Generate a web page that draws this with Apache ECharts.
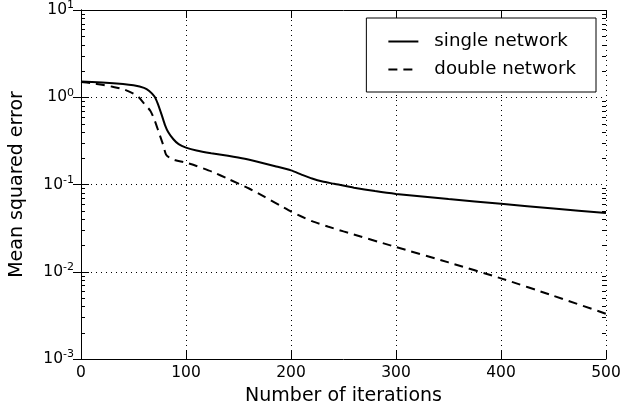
<!DOCTYPE html>
<html>
<head>
<meta charset="utf-8">
<script src="https://cdn.jsdelivr.net/npm/echarts@6/dist/echarts.min.js"></script>
<style>
  html, body { margin: 0; padding: 0; background: #fff; }
  #chart { width: 635px; height: 412px; }
</style>
</head>
<body>
<div id="chart"></div>
<script>
// iterations / error
var singleX = [0, 20, 40, 50, 60, 65, 70, 73, 77, 80, 83, 88, 93, 100, 110, 124, 140, 156, 170, 185, 200, 210, 220, 230, 241, 260, 280, 300, 350, 400, 450, 500];
var singleY = [1.52, 1.48, 1.42, 1.37, 1.28, 1.18, 1.02, 0.85, 0.62, 0.48, 0.40, 0.33, 0.29, 0.265, 0.245, 0.228, 0.213, 0.197, 0.18, 0.162, 0.145, 0.13, 0.117, 0.108, 0.102, 0.092, 0.084, 0.078, 0.068, 0.060, 0.053, 0.047];
var doubleX = [0, 10, 20, 30, 40, 50, 55, 60, 66, 70, 74, 78, 81, 85, 90, 100, 110, 125, 140, 160, 175, 190, 200, 210, 220, 235, 250, 300, 350, 400, 450, 500];
var doubleY = [1.5, 1.45, 1.39, 1.32, 1.24, 1.1, 1.0, 0.85, 0.70, 0.55, 0.40, 0.29, 0.22, 0.20, 0.19, 0.178, 0.163, 0.14, 0.116, 0.09, 0.072, 0.057, 0.049, 0.043, 0.038, 0.033, 0.029, 0.0192, 0.0128, 0.0084, 0.0053, 0.0033];
var xTicks = [0, 100, 200, 300, 400, 500];
var yDecades = [-3, -2, -1, 0, 1];

function pairs(xs, ys) {
  return xs.map(function (x, i) { return [x, ys[i]]; });
}

var chart = echarts.init(document.getElementById('chart'));
var font = 'DejaVu Sans';

var option = {
  animation: false,
  textStyle: { fontFamily: font, color: '#000' },
  grid: { left: 79, right: 29, top: 9, bottom: 53 },
  legend: {
    right: 39, top: 18,
    orient: 'vertical',
    backgroundColor: '#fff',
    borderColor: '#000',
    borderWidth: 1,
    borderRadius: 0,
    padding: [14, 20, 13, 21],
    itemWidth: 30,
    itemHeight: 19,
    itemGap: 9,
    itemStyle: { opacity: 0 },
    textStyle: { fontFamily: font, fontSize: 18.2, lineHeight: 19, color: '#000', padding: [0, 0, 0, 11] },
    data: ['single network', 'double network']
  },
  xAxis: [{
    type: 'value', min: 0, max: 500, interval: 100,
    name: 'Number of iterations', nameLocation: 'middle', nameGap: 28,
    nameTextStyle: { fontSize: 19, color: '#000' },
    axisLine: { show: true, lineStyle: { color: '#000', width: 1 } },
    axisTick: { show: true, inside: true, length: 8, lineStyle: { color: '#000' } },
    axisLabel: { fontSize: 15.5, color: '#000', margin: 6 },
    splitLine: { show: true, lineStyle: { type: [1, 4], color: '#000', width: 1 } }
  }, {
    type: 'value', min: 0, max: 500, interval: 100, position: 'top',
    axisLine: { show: true, lineStyle: { color: '#000', width: 1 } },
    axisTick: { show: true, inside: true, length: 8, lineStyle: { color: '#000' } },
    axisLabel: { show: false },
    splitLine: { show: false }
  }],
  yAxis: [{
    type: 'log', logBase: 10, min: 0.001, max: 10,
    name: 'Mean squared error', nameLocation: 'middle', nameGap: 54,
    nameTextStyle: { fontSize: 19, color: '#000' },
    axisLine: { show: true, lineStyle: { color: '#000', width: 1 } },
    axisTick: { show: true, inside: true, length: 8, lineStyle: { color: '#000' } },
    axisLabel: {
      margin: 7,
      formatter: function (v) {
        var e = Math.round(Math.log10(v));
        return '{b|10}{s|' + e + '}';
      },
      rich: {
        b: { fontSize: 15.5, color: '#000', fontFamily: font },
        s: { fontSize: 11, color: '#000', fontFamily: font, padding: [0, 0, 9, 0] }
      }
    },
    splitLine: { show: true, lineStyle: { type: [1, 4], color: '#000', width: 1 } }
  }, {
    type: 'log', logBase: 10, min: 0.001, max: 10, position: 'right',
    axisLine: { show: true, lineStyle: { color: '#000', width: 1 } },
    axisTick: { show: true, inside: true, length: 8, lineStyle: { color: '#000' } },
    axisLabel: { show: false },
    splitLine: { show: false }
  }],
  series: [{
    name: 'single network', type: 'line', symbol: 'none', smooth: 0.2,
    data: pairs(singleX, singleY),
    itemStyle: { color: '#000' },
    lineStyle: { color: '#000', width: 2 }
  }, {
    name: 'double network', type: 'line', symbol: 'none', smooth: 0.2,
    data: pairs(doubleX, doubleY),
    itemStyle: { color: '#000' },
    lineStyle: { color: '#000', width: 2, type: [9, 6] }
  }]
};
chart.setOption(option);

// minor log ticks on left and right spines
var x0 = chart.convertToPixel({ xAxisIndex: 0 }, 0);
var x1 = chart.convertToPixel({ xAxisIndex: 0 }, 500);
var minor = [];
yDecades.slice(0, -1).forEach(function (d) {
  for (var k = 2; k <= 9; k++) {
    var y = Math.round(chart.convertToPixel({ yAxisIndex: 0 }, k * Math.pow(10, d))) + 0.5;
    minor.push({ type: 'line', shape: { x1: x0, y1: y, x2: x0 + 4, y2: y }, style: { stroke: '#000', lineWidth: 1 }, z: 10 });
    minor.push({ type: 'line', shape: { x1: x1 - 4, y1: y, x2: x1, y2: y }, style: { stroke: '#000', lineWidth: 1 }, z: 10 });
  }
});
chart.setOption({ graphic: minor });
</script>
</body>
</html>
